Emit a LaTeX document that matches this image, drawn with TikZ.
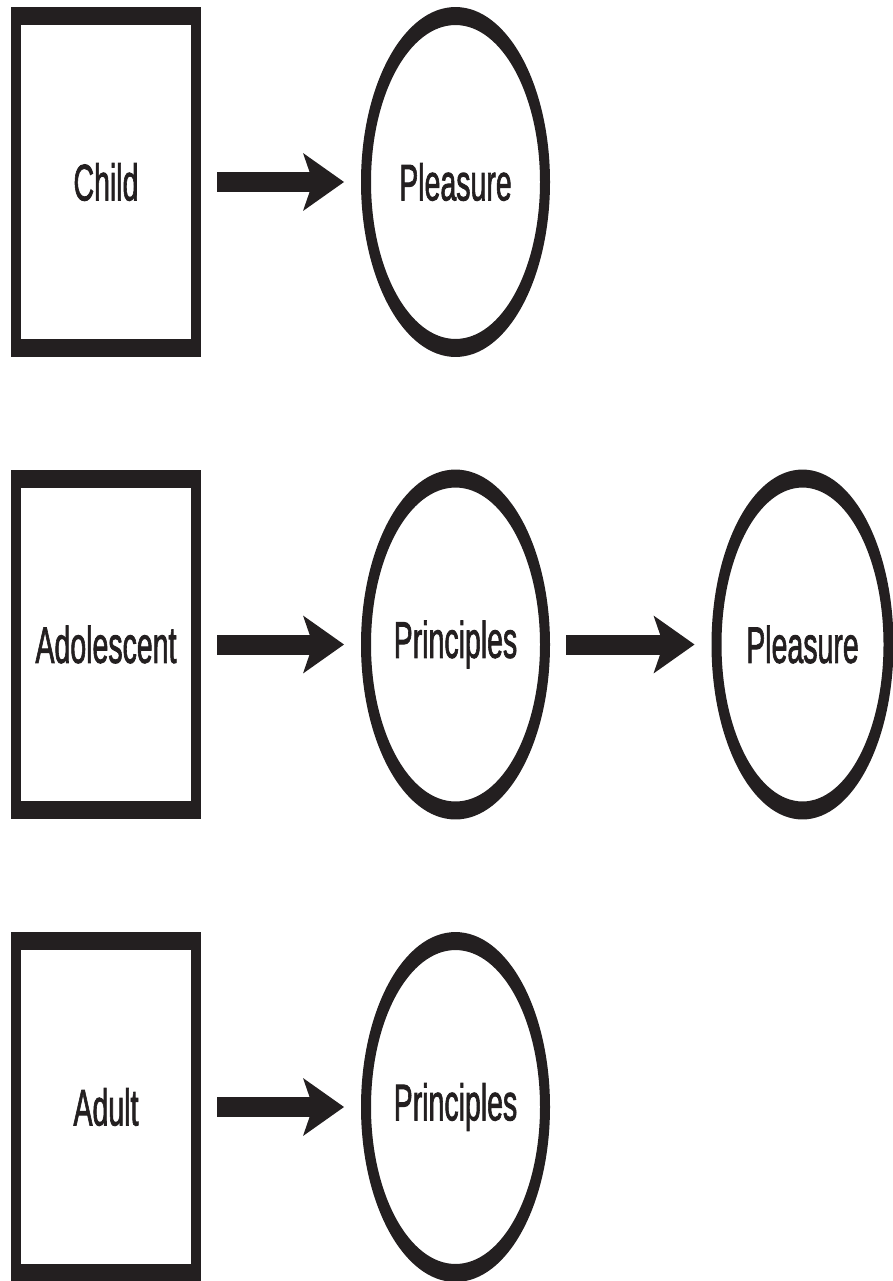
\documentclass[tikz,border=0pt]{standalone}
\usepackage{fontspec}
\setmainfont{Liberation Sans}
\newfontfamily\lblfont{Liberation Sans}[FakeBold=2]
\usetikzlibrary{shapes.geometric,arrows.meta}
\definecolor{ink}{HTML}{231F20}
\begin{document}
\begin{tikzpicture}[x=1pt,y=1pt,
  lbl/.style={text=ink, font=\lblfont\fontsize{28.5}{34}\selectfont},
  box/.style={lbl, draw=ink, line width=10pt, rectangle, minimum width=180pt, minimum height=184.4pt, inner sep=0pt},
  oval/.style={lbl, draw=ink, line width=10pt, ellipse, minimum width=179pt, minimum height=184.4pt, inner sep=0pt},
  conn/.style={draw=ink, line width=11.1pt, -{Stealth[length=41pt,width=32.2pt,inset=10pt,line width=0pt]}, shorten <=16pt, shorten >=17pt}]
\useasboundingbox (0,0) rectangle (893,-1281);
\begin{scope}[transform canvas={yscale=1.8}]
  % row 1
  \node[box]  (child) at (106,-101.11) {Child};
  \node[oval] (pl1)   at (455.5,-101.11) {Pleasure};
  % row 2
  \node[box]  (adol) at (106,-358.06) {Adolescent};
  \node[oval] (pr2)  at (455.5,-358.06) {Principles};
  \node[oval, minimum width=172pt] (pl2) at (802.5,-358.06) {Pleasure};
  % row 3
  \node[box]  (adult) at (106,-615.0) {Adult};
  \node[oval] (pr3)   at (455.5,-615.0) {Principles};
  % connectors
  \draw[conn] (child) -- (pl1);
  \draw[conn] (adol) -- (pr2);
  \draw[conn] (pr2) -- (pl2);
  \draw[conn] (adult) -- (pr3);
\end{scope}
\end{tikzpicture}
\end{document}
